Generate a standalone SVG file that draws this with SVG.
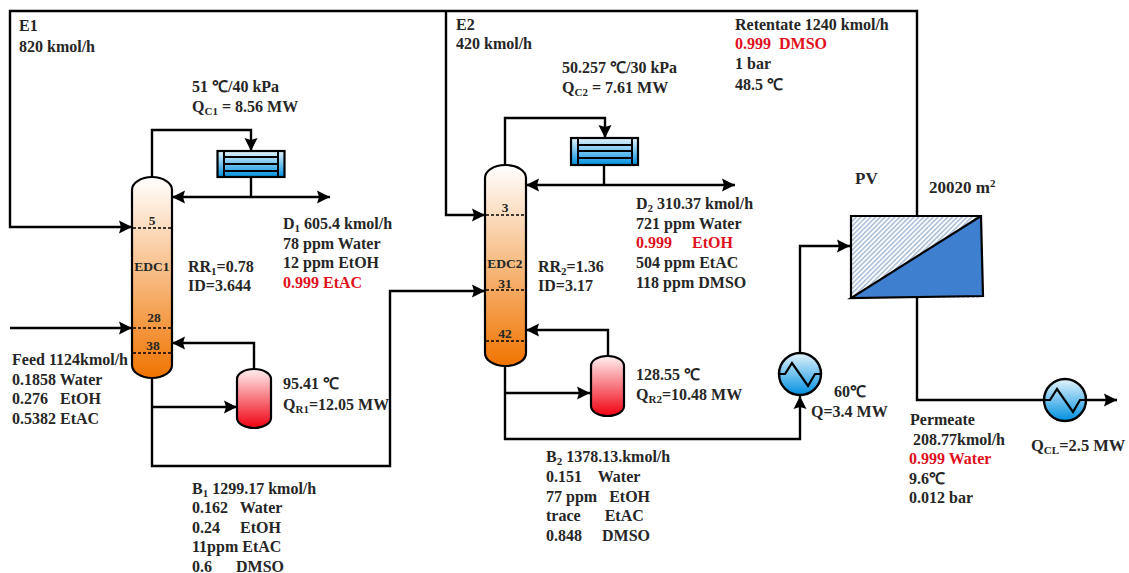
<svg xmlns="http://www.w3.org/2000/svg" width="1129" height="573" viewBox="0 0 1129 573">
<style>
text{font-family:"Liberation Serif",serif;font-weight:bold;font-size:16px;fill:#262626;white-space:pre}
.r{fill:#e0101c}
.s{font-size:11px}
.c{stroke:#000;stroke-width:2.4;fill:none}
.o{stroke:#000;stroke-width:2.2}
.d{stroke:#000;stroke-width:1.6;stroke-dasharray:3 2;fill:none}
.m{text-anchor:middle}
.n{font-size:13.500px}
</style>
<defs>
<marker id="a" markerUnits="userSpaceOnUse" markerWidth="16" markerHeight="16" refX="13" refY="8" orient="auto"><path d="M0,1.500L13,8L0,14.500L2,8Z" fill="#000"/></marker>
<linearGradient id="col" x1="0" y1="0" x2="0" y2="1"><stop offset="0" stop-color="#fff"/><stop offset="1" stop-color="#f07400"/></linearGradient>
<linearGradient id="reb" x1="0" y1="0" x2="0" y2="1"><stop offset="0" stop-color="#fff0f0"/><stop offset="1" stop-color="#f00010"/></linearGradient>
<linearGradient id="hx" x1="0" y1="0" x2="0" y2="1"><stop offset="0" stop-color="#e4f4fc"/><stop offset="1" stop-color="#0090e0"/></linearGradient>
<pattern id="h" width="3.400" height="3.400" patternUnits="userSpaceOnUse" patternTransform="rotate(-45)"><rect width="3.400" height="3.400" fill="#fff"/><rect width="3.400" height="1.500" fill="#a8bcd8"/></pattern>
<g id="hxs"><circle r="21" fill="url(#hx)" stroke="#000" stroke-width="2.400"/><path d="M-21,0H-15L-8,-11L8,12L15,0H21" fill="none" stroke="#000" stroke-width="2.200"/></g>
</defs>
<g id="connectors">
<path class="c" d="M917,216V11H10V227H132" marker-end="url(#a)"/>
<path class="c" d="M446,11V215H485" marker-end="url(#a)"/>
<path class="c" d="M10,328H132" marker-end="url(#a)"/>
<path class="c" d="M152,177V130H251V151" marker-end="url(#a)"/>
<path class="c" d="M251,177V197"/>
<path class="c" d="M251,197H172" marker-end="url(#a)"/>
<path class="c" d="M251,197H330" marker-end="url(#a)"/>
<path class="c" d="M254,369V343H172" marker-end="url(#a)"/>
<path class="c" d="M152,407H237" marker-end="url(#a)"/>
<path class="c" d="M152,378V466H390V291H485" marker-end="url(#a)"/>
<path class="c" d="M505,165V118H605V138" marker-end="url(#a)"/>
<path class="c" d="M604,165V185"/>
<path class="c" d="M604,185H526" marker-end="url(#a)"/>
<path class="c" d="M604,185H735" marker-end="url(#a)"/>
<path class="c" d="M608,356V330H526" marker-end="url(#a)"/>
<path class="c" d="M505,393H590" marker-end="url(#a)"/>
<path class="c" d="M505,366V439H800V396" marker-end="url(#a)"/>
<path class="c" d="M800,353V246H850" marker-end="url(#a)"/>
<path class="c" d="M917,298V400H1117" marker-end="url(#a)"/>
</g>
<g id="edc1">
<rect x="132" y="177" width="40" height="201" rx="20" ry="13" fill="url(#col)" class="o"/>
<path class="d" d="M133,228H171M133,328H171M133,353H171"/>
<text x="152" y="225" class="m n">5</text>
<text x="152" y="271" class="m n">EDC1</text>
<text x="154" y="322" class="m n">28</text>
<text x="153" y="350" class="m n">38</text>
</g>
<g id="edc2">
<rect x="485" y="165" width="41" height="201" rx="20" ry="13" fill="url(#col)" class="o"/>
<path class="d" d="M486,215H525M486,290H525M486,341H525"/>
<text x="505" y="212" class="m n">3</text>
<text x="505" y="268" class="m n">EDC2</text>
<text x="505" y="288" class="m n">31</text>
<text x="505" y="338" class="m n">42</text>
</g>
<g id="cond1">
<rect x="217.500" y="151" width="67" height="26" fill="url(#hx)" class="o"/>
<path stroke="#000" stroke-width="2" fill="none" d="M224,151V177M278,151V177M224,157H278M224,164H278M224,171H278"/>
</g>
<g id="cond2">
<rect x="571" y="138" width="67" height="27" fill="url(#hx)" class="o"/>
<path stroke="#000" stroke-width="2" fill="none" d="M578,138V165M632,138V165M578,145H632M578,151H632M578,158H632"/>
</g>
<g id="reb1"><rect x="237" y="369" width="34" height="59" rx="17" ry="10" fill="url(#reb)" class="o"/></g>
<g id="reb2"><rect x="591" y="356" width="33" height="60" rx="16" ry="10" fill="url(#reb)" class="o"/></g>
<g id="heater"><use href="#hxs" x="800" y="374"/></g>
<g id="cooler"><use href="#hxs" x="1065" y="400"/></g>
<g id="pv">
<rect x="851" y="216" width="131" height="82" fill="url(#h)"/>
<path d="M851,298L981,216L983,296Z" fill="#3f7fd0"/>
<path d="M851,298V216H981L983,296L851,298L981,216" fill="none" stroke="#000" stroke-width="2.200"/>
</g>
<g id="labels">
<text x="19" y="31">E1</text><text x="19" y="52">820 kmol/h</text>
<text x="192" y="92">51 ℃/40 kPa</text>
<text x="192" y="112">Q<tspan class="s" dy="3">C1</tspan><tspan dy="-3"> = 8.56 MW</tspan></text>
<text x="283" y="229">D<tspan class="s" dy="3">1</tspan><tspan dy="-3"> 605.4 kmol/h</tspan></text>
<text x="283" y="249">78 ppm Water</text>
<text x="283" y="268">12 ppm EtOH</text>
<text x="283" y="288" class="r">0.999 EtAC</text>
<text x="188" y="272">RR<tspan class="s" dy="3">1</tspan><tspan dy="-3">=0.78</tspan></text>
<text x="188" y="291">ID=3.644</text>
<text x="12" y="365">Feed 1124kmol/h</text>
<text x="12" y="385">0.1858 Water</text>
<text x="12" y="404">0.276   EtOH</text>
<text x="12" y="424">0.5382 EtAC</text>
<text x="283" y="389">95.41 ℃</text>
<text x="283" y="410">Q<tspan class="s" dy="3">R1</tspan><tspan dy="-3">=12.05 MW</tspan></text>
<text x="192" y="494">B<tspan class="s" dy="3">1</tspan><tspan dy="-3"> 1299.17 kmol/h</tspan></text>
<text x="192" y="513">0.162   Water</text>
<text x="192" y="533">0.24     EtOH</text>
<text x="192" y="552">11ppm EtAC</text>
<text x="192" y="572">0.6      DMSO</text>
<text x="456" y="30">E2</text><text x="456" y="49">420 kmol/h</text>
<text x="562" y="73">50.257 ℃/30 kPa</text>
<text x="562" y="93">Q<tspan class="s" dy="3">C2</tspan><tspan dy="-3"> = 7.61 MW</tspan></text>
<text x="636" y="209">D<tspan class="s" dy="3">2</tspan><tspan dy="-3"> 310.37 kmol/h</tspan></text>
<text x="636" y="229">721 ppm Water</text>
<text x="636" y="248" class="r">0.999     EtOH</text>
<text x="636" y="268">504 ppm EtAC</text>
<text x="636" y="288">118 ppm DMSO</text>
<text x="538" y="272">RR<tspan class="s" dy="3">2</tspan><tspan dy="-3">=1.36</tspan></text>
<text x="538" y="291">ID=3.17</text>
<text x="636" y="380">128.55 ℃</text>
<text x="636" y="400">Q<tspan class="s" dy="3">R2</tspan><tspan dy="-3">=10.48 MW</tspan></text>
<text x="546" y="462">B<tspan class="s" dy="3">2</tspan><tspan dy="-3"> 1378.13.kmol/h</tspan></text>
<text x="546" y="482">0.151    Water</text>
<text x="546" y="502">77 ppm   EtOH</text>
<text x="546" y="521">trace      EtAC</text>
<text x="546" y="541">0.848     DMSO</text>
<text x="735" y="30">Retentate 1240 kmol/h</text>
<text x="735" y="49" class="r">0.999  DMSO</text>
<text x="735" y="69">1 bar</text>
<text x="735" y="90">48.5 ℃</text>
<text x="855" y="184" style="font-size:17px">PV</text>
<text x="929" y="193" style="font-size:17px">20020 m<tspan style="font-size:11px" dy="-6">2</tspan></text>
<text x="834" y="397">60℃</text>
<text x="811" y="417">Q=3.4 MW</text>
<text x="910" y="425">Permeate</text>
<text x="913" y="445">208.77kmol/h</text>
<text x="909" y="464" class="r">0.999 Water</text>
<text x="909" y="484">9.6℃</text>
<text x="909" y="503">0.012 bar</text>
<text x="1031" y="451" style="font-size:16.500px">Q<tspan class="s" dy="3">CL</tspan><tspan dy="-3">=2.5 MW</tspan></text>
</g>
</svg>
